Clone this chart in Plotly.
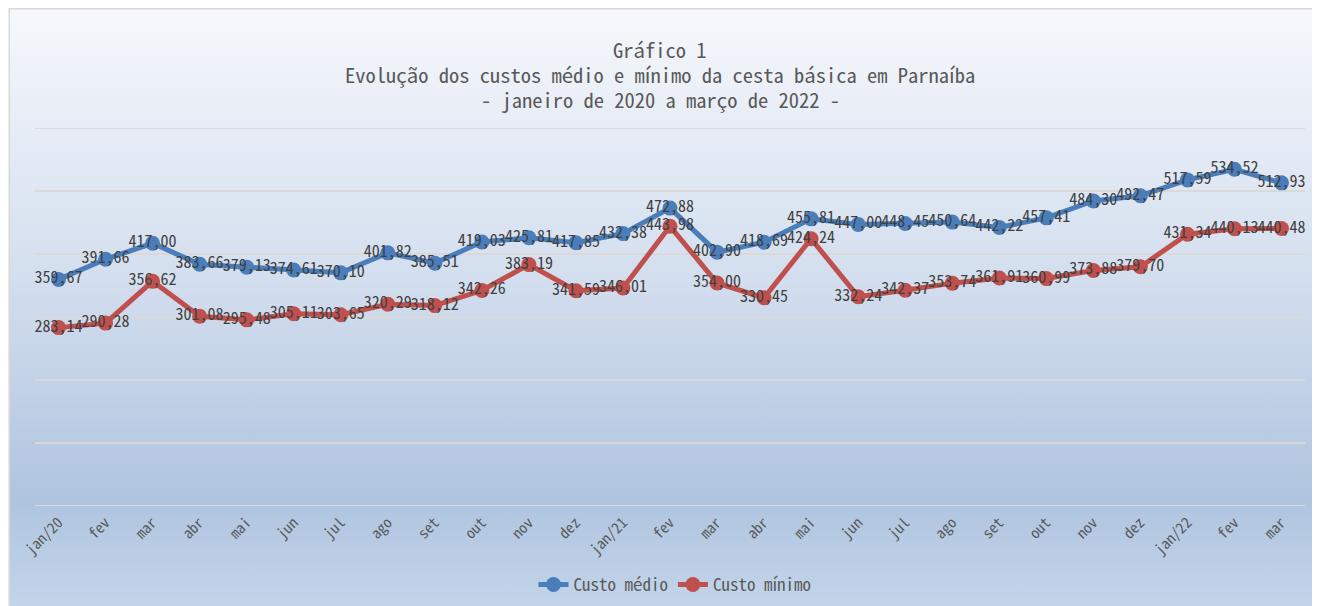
import plotly.graph_objects as go

# monthly labels, jan/2020 .. mar/2022
meses = ["jan/20", "fev", "mar", "abr", "mai", "jun", "jul", "ago", "set", "out", "nov", "dez",
         "jan/21", "fev", "mar", "abr", "mai", "jun", "jul", "ago", "set", "out", "nov", "dez",
         "jan/22", "fev", "mar"]

custo_medio = [359.67, 391.66, 417.00, 383.66, 379.13, 374.61, 370.10, 401.82, 385.51,
               419.03, 425.81, 417.85, 432.38, 472.88, 402.90, 418.69, 455.81, 447.00,
               448.45, 450.64, 442.22, 457.41, 484.30, 492.47, 517.59, 534.52, 512.93]

custo_minimo = [283.14, 290.28, 356.62, 301.08, 295.48, 305.11, 303.65, 320.29, 318.12,
                342.26, 383.19, 341.59, 346.01, 443.98, 354.00, 330.45, 424.24, 332.24,
                342.37, 353.74, 361.91, 360.99, 373.88, 379.70, 431.34, 440.13, 440.48]

titulo = ["Gráfico 1",
          "Evolução dos custos médio e mínimo da cesta básica em Parnaíba",
          "- janeiro de 2020 a março de 2022 -"]

grade = [0, 100, 200, 300, 400, 500, 600]

x = list(range(len(meses)))

FONT = "Noto Sans Mono CJK JP, Noto Sans CJK JP, DejaVu Sans Mono, monospace"
AZUL = "#4a7ebb"
VERMELHO = "#c0504d"
GRID = "#d9d9d9"

W, H = 1312, 600
ML, MR, MT, MB = 26.5, 14.5, 120, 102
pw, ph = W - ML - MR, H - MT - MB

fig = go.Figure()

for nome, ys, cor in [("Custo médio", custo_medio, AZUL), ("Custo mínimo", custo_minimo, VERMELHO)]:
    fig.add_trace(go.Scatter(
        x=x, y=ys, name=nome, mode="lines+markers",
        line=dict(color=cor, width=5),
        marker=dict(color=cor, size=15),
        hoverinfo="skip",
    ))

# data labels on top of every series
for ys in (custo_medio, custo_minimo):
    fig.add_trace(go.Scatter(
        x=x, y=ys, mode="text", showlegend=False,
        text=[f"{v:.2f}".replace(".", ",") for v in ys],
        textposition="middle center",
        textfont=dict(family=FONT, size=16, color="#404040"),
        hoverinfo="skip",
    ))

# gradient background as svg, stretched over the whole figure
svg = ("<svg xmlns='http://www.w3.org/2000/svg' width='100' height='100' preserveAspectRatio='none'>"
       "<defs><linearGradient id='g' x1='0' y1='0' x2='0' y2='1'>"
       "<stop offset='0' stop-color='%23f6f8fc'/>"
       "<stop offset='0.45' stop-color='%23d3deee'/>"
       "<stop offset='0.82' stop-color='%23afc4df'/>"
       "<stop offset='1' stop-color='%23c3d5ea'/>"
       "</linearGradient></defs><rect width='100' height='100' fill='url(%23g)'/></svg>")
x0, x1 = -ML / pw, 1 + MR / pw
y0, y1 = -MB / ph, 1 + MT / ph

fig.add_layout_image(dict(
    source="data:image/svg+xml;utf8," + svg,
    xref="paper", yref="paper", x=x0, y=y1, sizex=x1 - x0, sizey=y1 - y0,
    xanchor="left", yanchor="top", sizing="stretch", layer="below",
))
fig.add_shape(type="rect", xref="paper", yref="paper",
              x0=x0 + 0.8 / pw, x1=x1 + 5 / pw, y0=y0 - 5 / ph, y1=y1 - 0.8 / ph,
              line=dict(color=GRID, width=1.5), fillcolor="rgba(0,0,0,0)", layer="below")

# horizontal grid drawn as shapes so the edge lines (0 and 600) show too
for g in grade:
    fig.add_shape(type="line", xref="paper", yref="y", x0=0, x1=1, y0=g, y1=g,
                  line=dict(color=GRID, width=2), layer="below")

# title lines as separate annotations for exact spacing
for i, linha in enumerate(titulo):
    fig.add_annotation(
        text=linha, xref="paper", yref="paper",
        x=(652 - ML) / pw, y=(H - MB - (41 + 25 * i)) / ph,
        xanchor="center", yanchor="middle", showarrow=False,
        font=dict(family=FONT, size=20.5, color="#595959"),
    )

fig.update_layout(
    width=W, height=H,
    margin=dict(l=ML, r=MR, t=MT, b=MB, autoexpand=False),
    paper_bgcolor="white", plot_bgcolor="rgba(0,0,0,0)",
    xaxis=dict(
        range=[-0.5, len(meses) - 0.5], automargin=False,
        tickvals=x, ticktext=meses, tickangle=-45, ticklabelstandoff=4,
        showgrid=False, zeroline=False, showline=False,
        tickfont=dict(family=FONT, size=15, color="#595959"),
    ),
    yaxis=dict(
        range=[0, 600], showticklabels=False, automargin=False,
        showgrid=False, zeroline=False,
    ),
    legend=dict(
        orientation="h", x=(667 - ML) / pw, xanchor="center", y=-79 / ph, yanchor="middle",
        font=dict(family=FONT, size=17, color="#595959"),
        bgcolor="rgba(0,0,0,0)",
    ),
    showlegend=True,
)

fig.write_html("out.html")
